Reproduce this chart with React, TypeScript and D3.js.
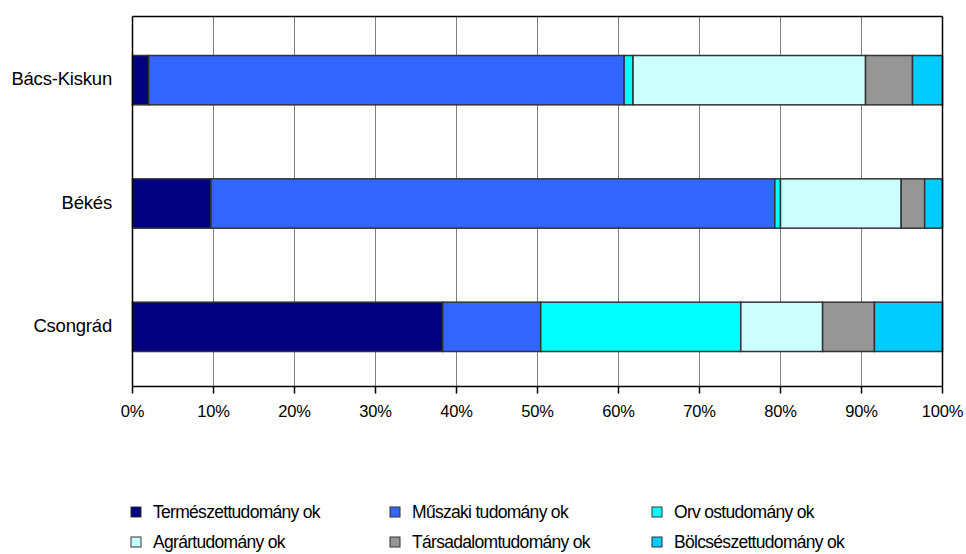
import React from "react";
import * as d3 from "d3";

const categories = ["Bács-Kiskun", "Békés", "Csongrád"];
const legendLabels = [
  "Természettudomány ok",
  "Műszaki tudomány ok",
  "Orv ostudomány ok",
  "Agrártudomány ok",
  "Társadalomtudomány ok",
  "Bölcsészettudomány ok",
];
const colors = ["#000080", "#3366FF", "#00FFFF", "#CCFFFF", "#969696", "#00CCFF"];
// percentage shares per category, in series order
const termeszet = [2.0, 9.7, 38.3];
const muszaki = [58.7, 69.6, 12.1];
const orvos = [1.1, 0.7, 24.7];
const agrar = [28.7, 14.9, 10.1];
const tarsadalom = [5.8, 2.9, 6.4];
const bolcsesz = [3.7, 2.2, 8.4];
const xTicks = [0, 10, 20, 30, 40, 50, 60, 70, 80, 90, 100];

const seriesValues = [termeszet, muszaki, orvos, agrar, tarsadalom, bolcsesz];

export default function App() {
  const W = 966, H = 554;
  const left = 132.5, right = 942.5, top = 16.5, bottom = 386.5;
  const x = d3.scaleLinear().domain([0, 100]).range([left, right]);
  const y = d3.scaleBand().domain(categories).range([top + 2, bottom + 2]).paddingInner(0.6).paddingOuter(0.3);
  const font = "'Liberation Sans', Arial, sans-serif";

  const rows = categories.map((c, i) => {
    const vals = seriesValues.map((s) => s[i]);
    const total = d3.sum(vals);
    let acc = 0;
    return vals.map((v, k) => {
      const x0 = acc;
      acc += (v / total) * 100;
      return { k, x0, x1: acc, cat: c };
    });
  });

  const legendCols = [131, 390, 652];
  const legendRows = [512, 542];

  return (
    <svg width={W} height={H} style={{ position: "absolute", left: 0, top: 0, background: "#fff" }}>
      <rect x={0} y={0} width={W} height={H} fill="#fff" />
      {xTicks.slice(1, -1).map((t) => (
        <line key={t} x1={x(t)} x2={x(t)} y1={top} y2={bottom} stroke="#808080" strokeWidth={1} />
      ))}
      {rows.map((segs, i) =>
        segs.map((s) => (
          <rect
            key={i + "-" + s.k}
            x={x(s.x0)}
            y={y(s.cat)!}
            width={x(s.x1) - x(s.x0)}
            height={y.bandwidth()}
            fill={colors[s.k]}
            stroke="#333333"
            strokeWidth={1.5}
          />
        ))
      )}
      <line x1={left} x2={right} y1={top} y2={top} stroke="#000" strokeWidth={1.5} />
      <line x1={right} x2={right} y1={top} y2={bottom} stroke="#000" strokeWidth={1.5} />
      <line x1={left} x2={left} y1={top} y2={bottom} stroke="#000" strokeWidth={1.5} />
      <line x1={left} x2={right} y1={bottom} y2={bottom} stroke="#000" strokeWidth={1.5} />
      {xTicks.map((t) => (
        <g key={t}>
          <line x1={x(t)} x2={x(t)} y1={bottom} y2={bottom + 7} stroke="#000" strokeWidth={1.5} />
          <text x={x(t)} y={417} textAnchor="middle" fontFamily={font} fontSize={16.5} fill="#000" letterSpacing={-0.2}>
            {t}%
          </text>
        </g>
      ))}
      {categories.map((c) => (
        <text key={c} x={112} y={y(c)! + y.bandwidth() / 2 + 5} textAnchor="end" fontFamily={font} fontSize={18.5} fill="#000" letterSpacing={-0.2}>
          {c}
        </text>
      ))}
      {legendLabels.map((l, k) => {
        const cx = legendCols[k % 3];
        const cy = legendRows[Math.floor(k / 3)];
        return (
          <g key={l}>
            <rect x={cx} y={cy - 5} width={10} height={10} fill={colors[k]} stroke="#333" strokeWidth={1} />
            <text x={cx + 22} y={cy + 6} fontFamily={font} fontSize={17.5} fill="#000" letterSpacing={-0.7}>
              {l}
            </text>
          </g>
        );
      })}
    </svg>
  );
}
